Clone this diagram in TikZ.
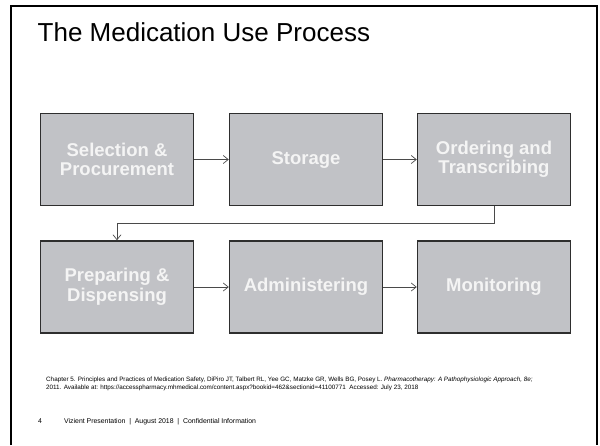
\documentclass[tikz,border=0pt]{standalone}
\usepackage{fontspec}
\setmainfont{Liberation Sans}
\usetikzlibrary{arrows.meta}
\definecolor{boxfill}{HTML}{C1C2C6}
\definecolor{boxline}{HTML}{2E2E2E}
\definecolor{flowline}{HTML}{4A4A4A}
\definecolor{stagetext}{HTML}{F4F4F4}
\begin{document}
\begin{tikzpicture}[x=1pt,y=-1pt,
  stage/.style={draw=boxline, line width=1.4pt, fill=boxfill,
    minimum width=153pt, minimum height=92pt, inner sep=0pt,
    align=center, text=stagetext,
    font=\fontsize{18.5}{19.5}\selectfont\bfseries},
  flow/.style={draw=flowline, line width=0.7pt,
    -{Straight Barb[length=5pt,width=8pt,line width=0.7pt]}},
  small/.style={anchor=base west, inner sep=0pt}]
\useasboundingbox (0,0) rectangle (600,445);
\fill[white] (0,0) rectangle (600,445);

% slide frame (open at the bottom)
\draw[line width=2.5pt] (11,445) -- (11,6) -- (597,6) -- (597,445);

% title
\node[small, font=\fontsize{26}{30}\selectfont] (title) at (37.5,41)
  {The Medication Use Process};

% process stages
\node[stage] (s1) at (117,159.5) {Selection \&\\Procurement};
\node[stage] (s2) at (306,159.5) {Storage};
\node[stage] (s3) at (494,159.5) {Ordering and\\Transcribing};
\node[stage] (s4) at (117,287) {Preparing \&\\Dispensing};
\node[stage] (s5) at (306,287) {Administering};
\node[stage] (s6) at (494,287) {Monitoring};

% flow between stages
\draw[flow] (s1) -- (s2);
\draw[flow] (s2) -- (s3);
\coordinate (turn) at (117,223);
\draw[flow] (s3.south) |- (turn) -- (s4.north);
\draw[flow] (s4) -- (s5);
\draw[flow] (s5) -- (s6);

% reference
\node[small, font=\fontsize{6.3}{8}\selectfont, align=left] (ref) at (46,389)
  {Chapter 5. Principles and Practices of Medication Safety, DiPiro JT, Talbert RL, Yee GC, Matzke GR, Wells BG, Posey L. \textit{Pharmacotherapy: A Pathophysiologic Approach, 8e;}\\
   2011. Available at: https://accesspharmacy.mhmedical.com/content.aspx?bookid=462\&sectionid=41100771 \ Accessed: July 23, 2018};

% footer
\node[small, font=\fontsize{6.9}{8}\selectfont] (pagenum) at (38,423) {4};
\node[small, font=\fontsize{6.9}{8}\selectfont] (footer) at (64,423)
  {Vizient Presentation \ \textbar\ \ August 2018 \ \textbar\ \ Confidential Information};
\end{tikzpicture}
\end{document}
